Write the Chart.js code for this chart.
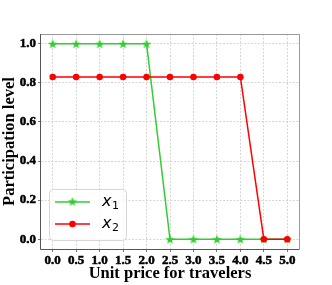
<!DOCTYPE html>
<html>
<head>
<meta charset="utf-8">
<script src="https://cdn.jsdelivr.net/npm/chart.js@4/dist/chart.umd.min.js"></script>
<style>
html,body{margin:0;padding:0;background:#fff;}
canvas{display:block;}
</style>
</head>
<body>
<canvas id="c" width="332" height="285"></canvas>
<script>
// ---- data ----
const prices = [0.0, 0.5, 1.0, 1.5, 2.0, 2.5, 3.0, 3.5, 4.0, 4.5, 5.0];
const x1Values = [1, 1, 1, 1, 1, 0, 0, 0, 0, 0, 0];
const x2Values = [0.83, 0.83, 0.83, 0.83, 0.83, 0.83, 0.83, 0.83, 0.83, 0, 0];
const xTicks = [0.0, 0.5, 1.0, 1.5, 2.0, 2.5, 3.0, 3.5, 4.0, 4.5, 5.0];
const yTicks = [0.0, 0.2, 0.4, 0.6, 0.8, 1.0];
const seriesNames = ['x\u2081', 'x\u2082'];
const seriesSubs = ['1', '2'];
const xTitle = 'Unit price for travelers';
const yTitle = 'Participation level';

const GREEN = '#33cc33';
const RED = '#ff0000';

function starImage(r, color) {
  const c = document.createElement('canvas');
  const s = Math.ceil(r * 2 + 2);
  c.width = s; c.height = s;
  const g = c.getContext('2d');
  g.translate(s / 2, s / 2 + 0.5);
  g.beginPath();
  for (let i = 0; i < 10; i++) {
    const rr = i % 2 === 0 ? r : r * 0.42;
    const a = -Math.PI / 2 + i * Math.PI / 5;
    const px = rr * Math.cos(a), py = rr * Math.sin(a);
    if (i === 0) g.moveTo(px, py); else g.lineTo(px, py);
  }
  g.closePath();
  g.fillStyle = color;
  g.fill();
  return c;
}
const star = starImage(5, GREEN);

const toXY = (xs, ys) => xs.map((x, i) => ({x: x, y: ys[i]}));

const tickFont = {family: '"Liberation Serif", "Times New Roman", serif', size: 13, weight: 'bold', lineHeight: 1};
const titleFont = {family: '"Liberation Serif", "Times New Roman", serif', size: 16.5, weight: 'bold', lineHeight: 1.2};

const framePlugin = {
  id: 'frame',
  afterDraw(chart) {
    const {ctx, chartArea: a} = chart;
    ctx.save();
    ctx.lineWidth = 1;
    ctx.strokeStyle = '#999999';
    ctx.beginPath();
    ctx.moveTo(a.left, a.top + 0.5); ctx.lineTo(a.right + 0.5, a.top + 0.5); ctx.lineTo(a.right + 0.5, a.bottom);
    ctx.stroke();
    ctx.strokeStyle = '#555555';
    ctx.beginPath();
    ctx.moveTo(a.left - 0.5, a.top); ctx.lineTo(a.left - 0.5, a.bottom + 0.5); ctx.lineTo(a.right + 0.5, a.bottom + 0.5);
    ctx.stroke();

    // legend (lower left)
    const lx = 49.5, ly = 189.5, lw = 77, lh = 51, rad = 4;
    ctx.beginPath();
    ctx.moveTo(lx + rad, ly);
    ctx.arcTo(lx + lw, ly, lx + lw, ly + lh, rad);
    ctx.arcTo(lx + lw, ly + lh, lx, ly + lh, rad);
    ctx.arcTo(lx, ly + lh, lx, ly, rad);
    ctx.arcTo(lx, ly, lx + lw, ly, rad);
    ctx.closePath();
    ctx.fillStyle = 'rgba(255,255,255,0.8)';
    ctx.fill();
    ctx.strokeStyle = '#d6d6d6';
    ctx.lineWidth = 1;
    ctx.stroke();

    const rows = [202, 224];
    chart.data.datasets.forEach((ds, i) => {
      const y = rows[i];
      ctx.strokeStyle = ds.borderColor;
      ctx.lineWidth = 1.5;
      ctx.beginPath();
      ctx.moveTo(55, y); ctx.lineTo(90, y);
      ctx.stroke();
      if (i === 0) {
        ctx.drawImage(star, 72.5 - star.width / 2, y - star.height / 2 - 0.5);
      } else {
        ctx.fillStyle = ds.backgroundColor;
        ctx.beginPath(); ctx.arc(72.5, y, 3.3, 0, Math.PI * 2); ctx.fill();
      }
      ctx.fillStyle = '#000';
      ctx.textBaseline = 'alphabetic';
      ctx.textAlign = 'left';
      ctx.font = 'italic 16px "DejaVu Sans"';
      ctx.fillText('x', 102, y + 4);
      ctx.font = '11px "DejaVu Sans"';
      ctx.fillText(seriesSubs[i], 112, y + 7);
    });
    ctx.restore();
  }
};

new Chart(document.getElementById('c'), {
  type: 'line',
  data: {
    datasets: [
      {
        label: seriesNames[0],
        data: toXY(prices, x1Values),
        borderColor: GREEN,
        backgroundColor: GREEN,
        borderWidth: 1.5,
        pointStyle: star,
        pointRadius: 5,
        tension: 0,
        order: 2
      },
      {
        label: seriesNames[1],
        data: toXY(prices, x2Values),
        borderColor: RED,
        backgroundColor: RED,
        borderWidth: 1.5,
        pointStyle: 'circle',
        pointRadius: 3.3,
        pointBorderWidth: 0,
        tension: 0,
        order: 1
      }
    ]
  },
  options: {
    responsive: false,
    animation: false,
    devicePixelRatio: 1,
    layout: {padding: {left: 0, right: 33, top: 34, bottom: 0}},
    plugins: {legend: {display: false}, tooltip: {enabled: false}},
    scales: {
      x: {
        type: 'linear',
        min: -0.25,
        max: 5.25,
        afterFit(s) { s.height = 36; },
        afterBuildTicks(s) { s.ticks = xTicks.map(v => ({value: v})); },
        ticks: {
          font: tickFont, color: '#000', padding: 2, maxRotation: 0, autoSkip: false,
          textStrokeColor: '#000', textStrokeWidth: 0.5,
          callback: v => Number(v).toFixed(1)
        },
        grid: {color: '#cccccc', lineWidth: 0.8, tickColor: '#555', tickLength: 3, drawTicks: true},
        border: {display: false, dash: [2, 1.5]},
        title: {display: true, text: xTitle, font: titleFont, color: '#000', padding: {top: 0, bottom: 1.5}}
      },
      y: {
        type: 'linear',
        min: -0.05,
        max: 1.05,
        afterFit(s) { s.width = 41; },
        afterBuildTicks(s) { s.ticks = yTicks.map(v => ({value: v})); },
        ticks: {
          font: tickFont, color: '#000', padding: 2,
          textStrokeColor: '#000', textStrokeWidth: 0.5,
          callback: v => Number(v).toFixed(1)
        },
        grid: {color: '#cccccc', lineWidth: 0.8, tickColor: '#555', tickLength: 3, drawTicks: true},
        border: {display: false, dash: [2, 1.5]},
        title: {display: true, text: yTitle, font: titleFont, color: '#000', padding: {top: 0, bottom: 0}}
      }
    }
  },
  plugins: [framePlugin]
});
</script>
</body>
</html>
